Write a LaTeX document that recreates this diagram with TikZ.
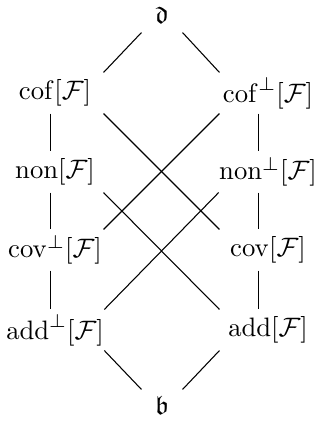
\documentclass[tikz,border=0pt]{standalone}
\usepackage{amsmath,amssymb}
\usepackage{tikz}
\usetikzlibrary{positioning}

\begin{document}
\begin{tikzpicture}[
  x=0.375pt, y=-0.375pt,
  inv/.style={inner sep=0pt, minimum width=36pt, minimum height=15pt},
  extreme/.style={inner sep=0pt, minimum width=15pt},
  ln/.style={line width=0.4pt}
]
\useasboundingbox (0,0) rectangle (320,425);

% Top and bottom
\node[extreme, minimum height=12.75pt] (dd) at (162,15) {$\mathfrak{d}$};
\node[extreme, minimum height=11.25pt] (bb) at (162,405) {$\mathfrak{b}$};

% Left column
\node[inv] (cof) at (55,93) {$\mathrm{cof}[\mathcal{F}]$};
\node[inv] (non) at (55,172) {$\mathrm{non}[\mathcal{F}]$};
\node[inv] (covp) at (55,250) {$\mathrm{cov}^{\perp}[\mathcal{F}]$};
\node[inv] (addp) at (55,330) {$\mathrm{add}^{\perp}[\mathcal{F}]$};

% Right column
\node[inv] (cofp) at (268,93) {$\mathrm{cof}^{\perp}[\mathcal{F}]$};
\node[inv] (nonp) at (268,172) {$\mathrm{non}^{\perp}[\mathcal{F}]$};
\node[inv] (cov) at (268,250) {$\mathrm{cov}[\mathcal{F}]$};
\node[inv] (add) at (268,330) {$\mathrm{add}[\mathcal{F}]$};

% Top and bottom edges
\draw[ln] (dd.south west) -- (cof.north east);
\draw[ln] (dd.south east) -- (cofp.north west);
\draw[ln] (addp.south east) -- (bb.north west);
\draw[ln] (add.south west) -- (bb.north east);

% Columns
\draw[ln] ([xshift=-1.69pt]cof.south) -- ([xshift=-1.69pt]non.north);
\draw[ln] ([xshift=-1.69pt]non.south) -- ([xshift=-1.69pt]covp.north);
\draw[ln] ([xshift=-1.69pt]covp.south) -- ([xshift=-1.69pt]addp.north);
\draw[ln] ([xshift=-3.56pt]cofp.south) -- ([xshift=-3.56pt]nonp.north);
\draw[ln] ([xshift=-3.56pt]nonp.south) -- ([xshift=-3.56pt]cov.north);
\draw[ln] ([xshift=-3.56pt]cov.south) -- ([xshift=-3.56pt]add.north);

% Crossings
\draw[ln] (cof.south east) -- (cov.north west);
\draw[ln] (cofp.south west) -- (covp.north east);
\draw[ln] (non.south east) -- (add.north west);
\draw[ln] (nonp.south west) -- (addp.north east);
\end{tikzpicture}
\end{document}
